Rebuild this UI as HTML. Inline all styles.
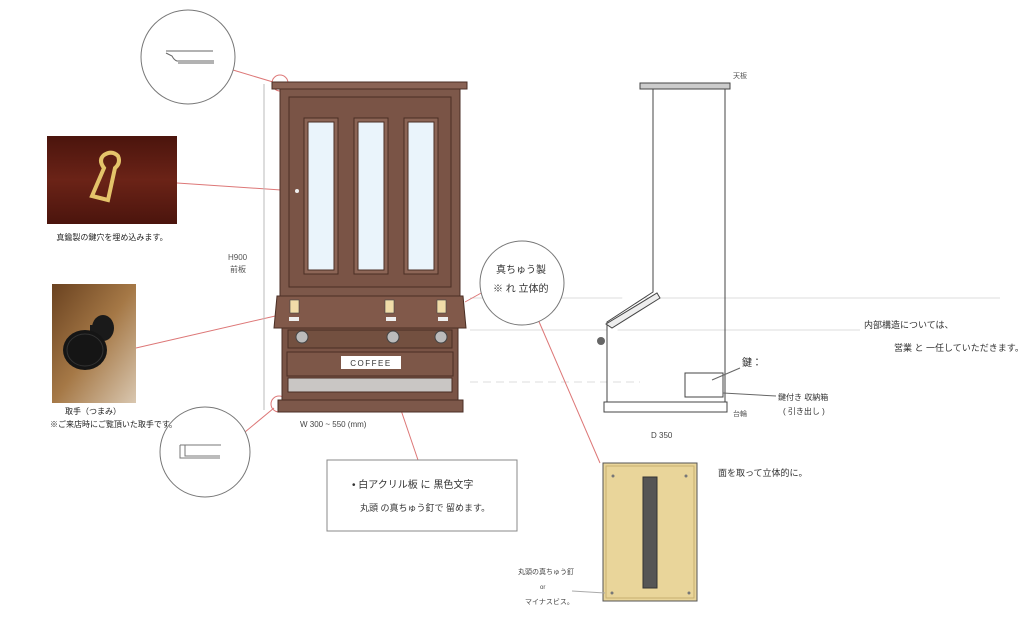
<!DOCTYPE html>
<html><head><meta charset="utf-8"><style>
html,body{margin:0;padding:0;background:#fff;}
svg{display:block}
text{font-family:"Liberation Sans","Noto Sans CJK JP",sans-serif;}
</style></head><body>
<svg width="1024" height="619" viewBox="0 0 1024 619" xmlns="http://www.w3.org/2000/svg">
<rect width="1024" height="619" fill="#fff"/>
<g stroke="#ddd" stroke-width="1">
<line x1="470" y1="298" x2="1000" y2="298"/>
<line x1="470" y1="330" x2="860" y2="330"/>
<line x1="470" y1="382" x2="640" y2="382" stroke-dasharray="8 5"/>
</g>
<g stroke="#d77" stroke-width="1" fill="none">
<line x1="233" y1="70" x2="273" y2="82"/>
<circle cx="280" cy="83" r="8"/>
<line x1="177" y1="183" x2="281" y2="190"/>
<line x1="136" y1="348" x2="284" y2="314"/>
<line x1="245" y1="432" x2="274" y2="408"/>
<circle cx="279" cy="404" r="8"/>
<line x1="465" y1="302" x2="483" y2="292"/>
<line x1="537" y1="317" x2="600" y2="463"/>
<line x1="388" y1="372" x2="418" y2="460"/>
</g>
<g fill="#fff" stroke="#777" stroke-width="1">
<circle cx="188" cy="57" r="47"/>
<circle cx="205" cy="452" r="45"/>
<circle cx="522" cy="283" r="42"/>
</g>
<path d="M166 51 H213 M166 53 L172 56 Q174 60 177 61 H214 M178 63 H214" stroke="#666" fill="none"/>
<path d="M180 445 H221 M185 445 V456 H220 M180 445 V458 H220" stroke="#777" fill="none"/>
<text x="496" y="273" font-size="10" fill="#333">真ちゅう製</text>
<text x="493" y="292" font-size="10" fill="#333">※ れ 立体的</text>
<line x1="264" y1="84" x2="264" y2="410" stroke="#bbb"/>
<text x="228" y="260" font-size="8" fill="#555">H900</text>
<text x="230" y="272" font-size="8" fill="#555">前板</text>
<defs>
<linearGradient id="wood1" x1="0" y1="0" x2="0" y2="1"><stop offset="0" stop-color="#3a0d08"/><stop offset=".5" stop-color="#7a2a1c"/><stop offset="1" stop-color="#3a0d08"/></linearGradient>
<linearGradient id="wood2" x1="0" y1="0" x2="1" y2="1"><stop offset="0" stop-color="#6a4220"/><stop offset=".5" stop-color="#a57846"/><stop offset="1" stop-color="#d9c7b0"/></linearGradient>
</defs>
<rect x="47" y="136" width="130" height="88" fill="#5c1c12"/>
<rect x="47" y="136" width="130" height="88" fill="url(#wood1)" opacity=".5"/>
<path d="M92 196 L104 168 Q98 160 104 155 Q112 150 118 156 Q121 163 115 168 L108 200 Z" fill="none" stroke="#e4c36a" stroke-width="4"/>
<text x="112" y="240" font-size="8" fill="#222" text-anchor="middle">真鍮製の鍵穴を埋め込みます。</text>
<rect x="52" y="284" width="84" height="119" fill="url(#wood2)"/>
<ellipse cx="103" cy="328" rx="11" ry="13" fill="#1a1a1a"/>
<rect x="90" y="325" width="12" height="14" fill="#1a1a1a"/>
<ellipse cx="85" cy="350" rx="22" ry="20" fill="#151515"/>
<ellipse cx="85" cy="350" rx="18" ry="16" fill="none" stroke="#333"/>
<text x="65" y="414" font-size="8" fill="#222">取手（つまみ）</text>
<text x="50" y="427" font-size="8" fill="#222">※ご来店時にご覧頂いた取手です。</text>
<g stroke="#4a2e24" stroke-width="1">
<rect x="272" y="82" width="195" height="7" fill="#8a6355"/>
<rect x="280" y="89" width="180" height="210" fill="#7d584a"/>
<rect x="289" y="97" width="162" height="190" fill="#7a5446"/>
<rect x="304" y="118" width="34" height="156" fill="#8c6556"/>
<rect x="354" y="118" width="34" height="156" fill="#8c6556"/>
<rect x="404" y="118" width="34" height="156" fill="#8c6556"/>
<rect x="308" y="122" width="26" height="148" fill="#eaf4fb"/>
<rect x="358" y="122" width="26" height="148" fill="#eaf4fb"/>
<rect x="408" y="122" width="26" height="148" fill="#eaf4fb"/>
<path d="M277 296 H463 L466 328 H274 Z" fill="#81594a"/>
<rect x="282" y="328" width="176" height="74" fill="#7a5446"/>
<rect x="288" y="330" width="164" height="18" fill="#735040"/>
<rect x="287" y="352" width="166" height="24" fill="#7d5748"/>
<rect x="288" y="378" width="164" height="14" fill="#c9c6c4"/>
<rect x="278" y="400" width="185" height="12" fill="#7d584a"/>
</g>
<g fill="#f0dca8" stroke="#444" stroke-width=".6">
<rect x="290" y="300" width="9" height="13"/><rect x="385" y="300" width="9" height="13"/><rect x="437" y="300" width="9" height="13"/>
</g>
<g fill="#eee"><rect x="289" y="317" width="10" height="4"/><rect x="386" y="317" width="10" height="4"/><rect x="438" y="317" width="10" height="4"/></g>
<g fill="#bbb" stroke="#444"><circle cx="302" cy="337" r="6"/><circle cx="393" cy="337" r="6"/><circle cx="441" cy="337" r="6"/></g>
<rect x="341" y="356" width="60" height="13" fill="#fff"/>
<text x="371" y="366" font-size="8" fill="#333" text-anchor="middle" letter-spacing="1.5">COFFEE</text>
<circle cx="297" cy="191" r="2" fill="#eee"/>
<text x="300" y="427" font-size="8" fill="#444">W 300 ~ 550  (mm)</text>
<g stroke="#444" stroke-width="1" fill="#fff">
<rect x="640" y="83" width="90" height="6" fill="#ccc"/>
<path d="M653 89 V292 L607 322 V402 M725 89 V402"/>
<path d="M657 293 L660 298 L612 328 L606 324 Z" fill="#eee"/>
<rect x="604" y="402" width="123" height="10"/>
<rect x="685" y="373" width="38" height="24"/>
</g>
<circle cx="601" cy="341" r="4" fill="#666"/>
<text x="733" y="78" font-size="7" fill="#555">天板</text>
<text x="651" y="438" font-size="8" fill="#444">D 350</text>
<text x="742" y="366" font-size="10" fill="#333">鍵：</text>
<line x1="712" y1="380" x2="740" y2="368" stroke="#666"/>
<line x1="723" y1="393" x2="776" y2="396" stroke="#666"/>
<text x="778" y="400" font-size="8" fill="#333">鍵付き 収納箱</text>
<text x="783" y="414" font-size="8" fill="#333">( 引き出し )</text>
<text x="733" y="416" font-size="7" fill="#555">台輪</text>
<text x="864" y="328" font-size="9" fill="#333">内部構造については、</text>
<text x="894" y="351" font-size="9" fill="#333">営業 と 一任していただきます。</text>
<text x="718" y="476" font-size="9" fill="#333">面を取って立体的に。</text>
<rect x="327" y="460" width="190" height="71" fill="#fff" stroke="#888"/>
<text x="352" y="488" font-size="10" fill="#333">• 白アクリル板 に 黒色文字</text>
<text x="360" y="511" font-size="9" fill="#333">丸頭 の真ちゅう釘で 留めます。</text>
<rect x="603" y="463" width="94" height="138" fill="#e9d59a" stroke="#555"/>
<rect x="606" y="466" width="88" height="132" fill="none" stroke="#c6b070"/>
<rect x="643" y="477" width="14" height="111" fill="#555" stroke="#333"/>
<g fill="#777"><circle cx="613" cy="476" r="1.5"/><circle cx="686" cy="476" r="1.5"/><circle cx="612" cy="593" r="1.5"/><circle cx="689" cy="593" r="1.5"/></g>
<text x="518" y="574" font-size="7" fill="#444">丸頭の真ちゅう釘</text>
<text x="540" y="589" font-size="6" fill="#444">or</text>
<text x="525" y="604" font-size="7" fill="#444">マイナスビス。</text>
<line x1="572" y1="591" x2="605" y2="593" stroke="#aaa"/>
</svg>
</body></html>
